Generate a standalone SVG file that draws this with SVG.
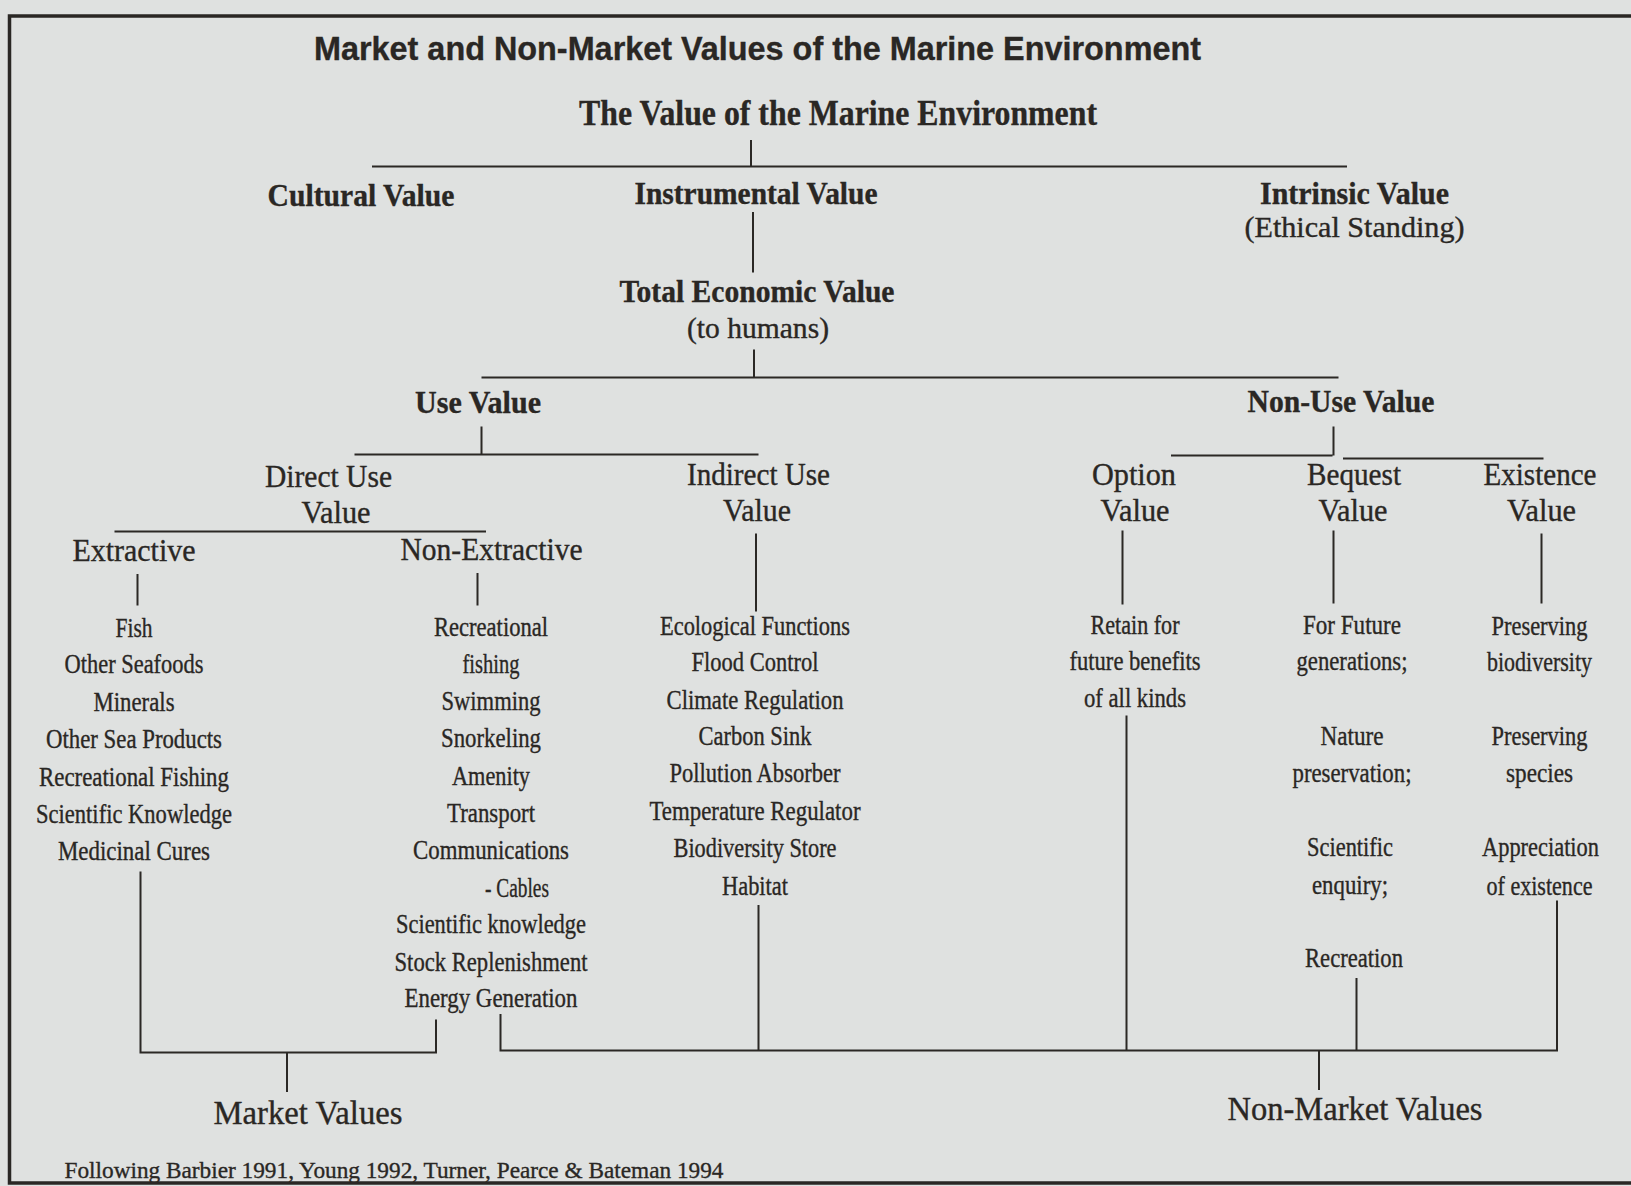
<svg xmlns="http://www.w3.org/2000/svg" width="1631" height="1186" viewBox="0 0 1631 1186">
<style>
.bg{fill:#dfe1e0}
.frame{fill:none;stroke:#2a2724;stroke-width:3.5}
.ln{stroke:#2b2825;stroke-width:2;fill:none}
text{fill:#2a2724;text-anchor:middle;stroke:#2a2724;stroke-width:0.35}
.title{font-family:"Liberation Sans",Arial,sans-serif;font-weight:bold;font-size:33px;text-anchor:start}
.hb{font-family:"Liberation Serif","Times New Roman",serif;font-weight:bold;font-size:31px}
.top{font-size:35px}
.hr{font-family:"Liberation Serif","Times New Roman",serif;font-size:31px}
.sub{font-size:29px}
.it{font-family:"Liberation Serif","Times New Roman",serif;font-size:26.5px}
.mv{font-family:"Liberation Serif","Times New Roman",serif;font-size:33px}
.foot{font-family:"Liberation Serif","Times New Roman",serif;font-size:24px;text-anchor:start}
</style>
<rect class="bg" x="0" y="0" width="1631" height="1186"/>
<path class="frame" d="M1640,16 L9.5,16 L9.5,1183 L1640,1183"/>
<text class="title" x="314" y="60" textLength="887" lengthAdjust="spacingAndGlyphs">Market and Non-Market Values of the Marine Environment</text>

<g id="connectors">
<path class="ln" d="M751,140 V166.5 M372,166.5 H1347"/>
<path class="ln" d="M753,212 V272.5"/>
<path class="ln" d="M754,349.5 V377.5 M481.5,377.5 H1338.5"/>
<path class="ln" d="M481.5,426.5 V454.5 M354.5,454.5 H758.5"/>
<path class="ln" d="M114.5,531.5 H486"/>
<path class="ln" d="M137.5,574 V605.5 M477.5,573 V605.5"/>
<path class="ln" d="M756,533.5 V611.5"/>
<path class="ln" d="M1333.5,426.5 V455.5 M1171,455.5 H1332.5 M1343,458.5 H1543.5"/>
<path class="ln" d="M1122.5,530.5 V604.5 M1333.5,530.5 V603.5 M1541.5,533.5 V603.5"/>
<path class="ln" d="M140.5,871.5 V1052.5 H436 V1019.5 M287,1052.5 V1092"/>
<path class="ln" d="M500.5,1014 V1050.5 H1557 V900.5 M758.5,905 V1050.5 M1126.5,715.5 V1050.5 M1356.5,978 V1050.5 M1319,1050.5 V1090"/>
</g>

<g id="n-root"><text class="hb top" x="838" y="125" textLength="518" lengthAdjust="spacingAndGlyphs">The Value of the Marine Environment</text></g>
<g id="n-cultural"><text class="hb" x="361" y="206" textLength="187" lengthAdjust="spacingAndGlyphs">Cultural Value</text></g>
<g id="n-instrumental"><text class="hb" x="756" y="204" textLength="243" lengthAdjust="spacingAndGlyphs">Instrumental Value</text></g>
<g id="n-intrinsic">
<text class="hb" x="1354.5" y="204" textLength="189" lengthAdjust="spacingAndGlyphs">Intrinsic Value</text>
<text class="hr sub" x="1354.5" y="237" textLength="220" lengthAdjust="spacingAndGlyphs">(Ethical Standing)</text>
</g>
<g id="n-tev">
<text class="hb" x="757" y="301.5" textLength="275" lengthAdjust="spacingAndGlyphs">Total Economic Value</text>
<text class="hr sub" x="758" y="338" textLength="142" lengthAdjust="spacingAndGlyphs">(to humans)</text>
</g>
<g id="n-use"><text class="hb" x="478" y="413" textLength="126" lengthAdjust="spacingAndGlyphs">Use Value</text></g>
<g id="n-nonuse"><text class="hb" x="1341" y="412" textLength="187" lengthAdjust="spacingAndGlyphs">Non-Use Value</text></g>
<g id="n-direct">
<text class="hr" x="328.5" y="487" textLength="127" lengthAdjust="spacingAndGlyphs">Direct Use</text>
<text class="hr" x="336" y="523" textLength="69" lengthAdjust="spacingAndGlyphs">Value</text>
</g>
<g id="n-indirect">
<text class="hr" x="758.5" y="485" textLength="143" lengthAdjust="spacingAndGlyphs">Indirect Use</text>
<text class="hr" x="757" y="521" textLength="68" lengthAdjust="spacingAndGlyphs">Value</text>
</g>
<g id="n-extractive"><text class="hr" x="134" y="561" textLength="123" lengthAdjust="spacingAndGlyphs">Extractive</text></g>
<g id="n-nonextractive"><text class="hr" x="491.5" y="560" textLength="182" lengthAdjust="spacingAndGlyphs">Non-Extractive</text></g>
<g id="n-option">
<text class="hr" x="1134" y="485" textLength="84" lengthAdjust="spacingAndGlyphs">Option</text>
<text class="hr" x="1135" y="521" textLength="69" lengthAdjust="spacingAndGlyphs">Value</text>
</g>
<g id="n-bequest">
<text class="hr" x="1354" y="485" textLength="94" lengthAdjust="spacingAndGlyphs">Bequest</text>
<text class="hr" x="1353" y="521" textLength="69" lengthAdjust="spacingAndGlyphs">Value</text>
</g>
<g id="n-existence">
<text class="hr" x="1540" y="485" textLength="113" lengthAdjust="spacingAndGlyphs">Existence</text>
<text class="hr" x="1541.5" y="521" textLength="69" lengthAdjust="spacingAndGlyphs">Value</text>
</g>

<g id="n-extractive-items">
<text class="it" x="134" y="636.5" textLength="37" lengthAdjust="spacingAndGlyphs">Fish</text>
<text class="it" x="134" y="673" textLength="139" lengthAdjust="spacingAndGlyphs">Other Seafoods</text>
<text class="it" x="134" y="710.5" textLength="81" lengthAdjust="spacingAndGlyphs">Minerals</text>
<text class="it" x="134" y="748" textLength="176" lengthAdjust="spacingAndGlyphs">Other Sea Products</text>
<text class="it" x="134" y="785.5" textLength="190" lengthAdjust="spacingAndGlyphs">Recreational Fishing</text>
<text class="it" x="134" y="823" textLength="196" lengthAdjust="spacingAndGlyphs">Scientific Knowledge</text>
<text class="it" x="134" y="860" textLength="152" lengthAdjust="spacingAndGlyphs">Medicinal Cures</text>
</g>
<g id="n-nonextractive-items">
<text class="it" x="491" y="635.5" textLength="114" lengthAdjust="spacingAndGlyphs">Recreational</text>
<text class="it" x="491" y="673" textLength="57" lengthAdjust="spacingAndGlyphs">fishing</text>
<text class="it" x="491" y="709.5" textLength="99" lengthAdjust="spacingAndGlyphs">Swimming</text>
<text class="it" x="491" y="747" textLength="100" lengthAdjust="spacingAndGlyphs">Snorkeling</text>
<text class="it" x="491" y="784.5" textLength="78" lengthAdjust="spacingAndGlyphs">Amenity</text>
<text class="it" x="491" y="822" textLength="88" lengthAdjust="spacingAndGlyphs">Transport</text>
<text class="it" x="491" y="859" textLength="156" lengthAdjust="spacingAndGlyphs">Communications</text>
<text class="it" x="517" y="896.5" textLength="64" lengthAdjust="spacingAndGlyphs">- Cables</text>
<text class="it" x="491" y="933" textLength="190" lengthAdjust="spacingAndGlyphs">Scientific knowledge</text>
<text class="it" x="491" y="970.5" textLength="193" lengthAdjust="spacingAndGlyphs">Stock Replenishment</text>
<text class="it" x="491" y="1007" textLength="173" lengthAdjust="spacingAndGlyphs">Energy Generation</text>
</g>
<g id="n-indirect-items">
<text class="it" x="755" y="634.5" textLength="190" lengthAdjust="spacingAndGlyphs">Ecological Functions</text>
<text class="it" x="755" y="671" textLength="127" lengthAdjust="spacingAndGlyphs">Flood Control</text>
<text class="it" x="755" y="708.5" textLength="177" lengthAdjust="spacingAndGlyphs">Climate Regulation</text>
<text class="it" x="755" y="745" textLength="113" lengthAdjust="spacingAndGlyphs">Carbon Sink</text>
<text class="it" x="755" y="782" textLength="171" lengthAdjust="spacingAndGlyphs">Pollution Absorber</text>
<text class="it" x="755" y="819.5" textLength="211" lengthAdjust="spacingAndGlyphs">Temperature Regulator</text>
<text class="it" x="755" y="857" textLength="163" lengthAdjust="spacingAndGlyphs">Biodiversity Store</text>
<text class="it" x="755" y="894.5" textLength="66" lengthAdjust="spacingAndGlyphs">Habitat</text>
</g>
<g id="n-option-items">
<text class="it" x="1135" y="633.5" textLength="89" lengthAdjust="spacingAndGlyphs">Retain for</text>
<text class="it" x="1135" y="670" textLength="131" lengthAdjust="spacingAndGlyphs">future benefits</text>
<text class="it" x="1135" y="706.5" textLength="102" lengthAdjust="spacingAndGlyphs">of all kinds</text>
</g>
<g id="n-bequest-items">
<text class="it" x="1352" y="633.5" textLength="98" lengthAdjust="spacingAndGlyphs">For Future</text>
<text class="it" x="1352" y="670" textLength="111" lengthAdjust="spacingAndGlyphs">generations;</text>
<text class="it" x="1352" y="745" textLength="63" lengthAdjust="spacingAndGlyphs">Nature</text>
<text class="it" x="1352" y="782" textLength="119" lengthAdjust="spacingAndGlyphs">preservation;</text>
<text class="it" x="1350" y="856" textLength="86" lengthAdjust="spacingAndGlyphs">Scientific</text>
<text class="it" x="1350" y="893.5" textLength="76" lengthAdjust="spacingAndGlyphs">enquiry;</text>
<text class="it" x="1354" y="966.5" textLength="98" lengthAdjust="spacingAndGlyphs">Recreation</text>
</g>
<g id="n-existence-items">
<text class="it" x="1539.5" y="634.5" textLength="96" lengthAdjust="spacingAndGlyphs">Preserving</text>
<text class="it" x="1539.5" y="671" textLength="105" lengthAdjust="spacingAndGlyphs">biodiversity</text>
<text class="it" x="1539.5" y="745" textLength="96" lengthAdjust="spacingAndGlyphs">Preserving</text>
<text class="it" x="1539.5" y="782" textLength="67" lengthAdjust="spacingAndGlyphs">species</text>
<text class="it" x="1540.5" y="856" textLength="117" lengthAdjust="spacingAndGlyphs">Appreciation</text>
<text class="it" x="1539.5" y="894.5" textLength="106" lengthAdjust="spacingAndGlyphs">of existence</text>
</g>
<g id="n-market"><text class="mv" x="308" y="1123.5" textLength="189" lengthAdjust="spacingAndGlyphs">Market Values</text></g>
<g id="n-nonmarket"><text class="mv" x="1355" y="1119.5" textLength="255" lengthAdjust="spacingAndGlyphs">Non-Market Values</text></g>
<text class="foot" x="64.5" y="1177.5" textLength="659" lengthAdjust="spacingAndGlyphs">Following Barbier 1991, Young 1992, Turner, Pearce &amp; Bateman 1994</text>
</svg>
